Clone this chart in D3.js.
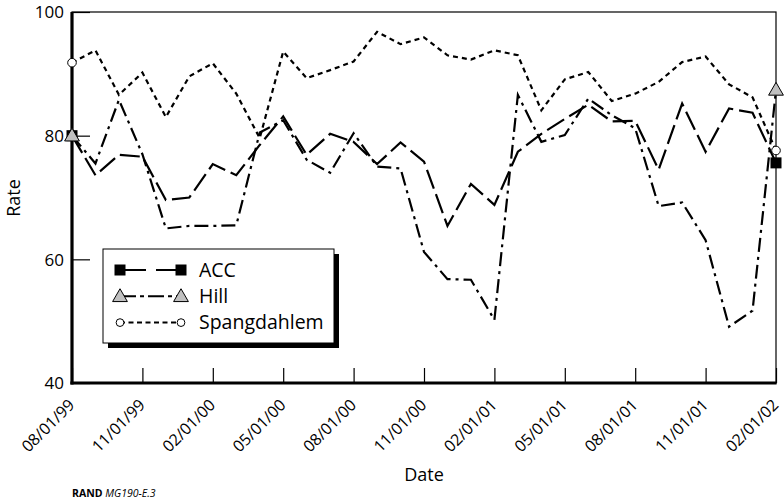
<!DOCTYPE html>
<html>
<head>
<meta charset="utf-8">
<script src="https://cdn.jsdelivr.net/npm/d3@7"></script>
<style>
  body { margin: 0; background: #fff; }
  svg { display: block; }
  text { font-family: "Open Sans", "Noto Sans", sans-serif; fill: #000; }
</style>
</head>
<body>
<svg id="chart" width="784" height="502"></svg>
<script>
// ---- data ----
const months = [
  "08/01/99","09/01/99","10/01/99","11/01/99","12/01/99","01/01/00","02/01/00",
  "03/01/00","04/01/00","05/01/00","06/01/00","07/01/00","08/01/00","09/01/00",
  "10/01/00","11/01/00","12/01/00","01/01/01","02/01/01","03/01/01","04/01/01",
  "05/01/01","06/01/01","07/01/01","08/01/01","09/01/01","10/01/01","11/01/01",
  "12/01/01","01/01/02","02/01/02"
];
const tickLabels = ["08/01/99","11/01/99","02/01/00","05/01/00","08/01/00","11/01/00",
  "02/01/01","05/01/01","08/01/01","11/01/01","02/01/02"];
const yTicks = [40, 60, 80, 100];

const acc = [80.0, 73.6, 76.9, 76.6, 69.6, 70.0, 75.4, 73.6, 78.5, 83.1, 76.9, 80.3,
  79.0, 75.4, 78.9, 75.8, 65.4, 72.2, 68.8, 77.4, 80.3, 82.7, 85.0, 82.3, 82.4,
  74.5, 85.2, 77.4, 84.4, 83.7, 75.6];
const hill = [80.0, 75.5, 85.8, 77.0, 65.0, 65.4, 65.4, 65.5, 80.5, 82.5, 76.1, 74.0,
  80.4, 75.0, 74.7, 61.2, 56.8, 56.7, 50.2, 86.6, 79.0, 80.1, 86.0, 83.3, 81.2,
  68.6, 69.2, 63.1, 49.1, 51.7, 87.4];
const spang = [91.8, 93.8, 86.6, 90.2, 83.0, 89.6, 91.7, 86.8, 79.6, 93.6, 89.3, 90.6,
  92.0, 96.8, 94.8, 95.9, 93.0, 92.3, 93.8, 93.0, 84.1, 89.1, 90.3, 85.6, 86.8,
  88.7, 91.9, 92.8, 88.3, 86.2, 77.6];

const seriesNames = ["ACC", "Hill", "Spangdahlem"];

// ---- layout ----
const L = 72, R = 776, T = 12, B = 383;
const svg = d3.select("#chart");
const x = d3.scalePoint().domain(months).range([L, R]);
const y = d3.scaleLinear().domain([40, 100]).range([B, T]);

// frame (thin top/right)
svg.append("rect").attr("x", L).attr("y", T).attr("width", R - L).attr("height", B - T)
  .attr("fill", "none").attr("stroke", "#000").attr("stroke-width", 1.2);

// x axis
const xAxis = svg.append("g").attr("transform", `translate(0,${B})`)
  .call(d3.axisBottom(x).tickValues(tickLabels).tickSizeInner(-15).tickSizeOuter(0));
xAxis.select(".domain").remove();
xAxis.selectAll(".tick line").attr("stroke", "#000").attr("stroke-width", 1.2);
xAxis.selectAll(".tick text")
  .attr("font-size", 16).attr("text-anchor", "end")
  .attr("x", null).attr("y", null).attr("dy", null)
  .attr("transform", "translate(3,23) rotate(-45)");

// y axis
const yAxis = svg.append("g").attr("transform", `translate(${L},0)`)
  .call(d3.axisLeft(y).tickValues(yTicks).tickSizeInner(-18).tickSizeOuter(0).tickPadding(8));
yAxis.select(".domain").remove();
yAxis.selectAll(".tick line").attr("stroke", "#000").attr("stroke-width", 1.2);
yAxis.selectAll(".tick text").attr("font-size", 17).attr("dy", "0.35em");

// thick left & bottom axis lines
svg.append("line").attr("x1", L).attr("x2", L).attr("y1", T).attr("y2", B + 1.5)
  .attr("stroke", "#000").attr("stroke-width", 3.2);
svg.append("line").attr("x1", L - 1.6).attr("x2", R + 0.6).attr("y1", B).attr("y2", B)
  .attr("stroke", "#000").attr("stroke-width", 3.2);

// lines
const dashes = { ACC: "20,6", Hill: "14,5,3,5", Spangdahlem: "5,4" };
const dataMap = { ACC: acc, Hill: hill, Spangdahlem: spang };
const lineGen = d3.line().x((d, i) => x(months[i])).y(d => y(d));

seriesNames.forEach(name => {
  svg.append("path").datum(dataMap[name]).attr("d", lineGen)
    .attr("fill", "none").attr("stroke", "#000").attr("stroke-width", 2.2)
    .attr("stroke-dasharray", dashes[name]).attr("stroke-linejoin", "miter");
});

function marker(g, name, cx, cy, scale) {
  const s = scale || 1;
  if (name === "ACC") {
    g.append("rect").attr("x", cx - 5.5 * s).attr("y", cy - 5.5 * s)
      .attr("width", 11 * s).attr("height", 11 * s).attr("fill", "#000");
  } else if (name === "Hill") {
    const sym = d3.symbol().type(d3.symbolTriangle).size(95 * s * s);
    g.append("path").attr("d", sym()).attr("transform", `translate(${cx},${cy + 1})`)
      .attr("fill", "#c0c0c0").attr("stroke", "#000").attr("stroke-width", 1);
  } else {
    g.append("circle").attr("cx", cx).attr("cy", cy).attr("r", 4.3 * s)
      .attr("fill", "#fff").attr("stroke", "#000").attr("stroke-width", 1);
  }
}

const mk = svg.append("g");
seriesNames.forEach(name => {
  const arr = dataMap[name];
  [0, arr.length - 1].forEach(i => marker(mk, name, x(months[i]), y(arr[i])));
});

// legend
const lg = svg.append("g");
const lx = 103, ly = 249, lw = 231, lh = 94;
lg.append("rect").attr("x", lx + 5).attr("y", ly + 5).attr("width", lw).attr("height", lh).attr("fill", "#000");
lg.append("rect").attr("x", lx).attr("y", ly).attr("width", lw).attr("height", lh)
  .attr("fill", "#fff").attr("stroke", "#000").attr("stroke-width", 1);
seriesNames.forEach((name, k) => {
  const cy = ly + 21 + k * 26.3;
  lg.append("line").attr("x1", 120).attr("x2", 181).attr("y1", cy).attr("y2", cy)
    .attr("stroke", "#000").attr("stroke-width", 2)
    .attr("stroke-dasharray", name === "ACC" ? "26,10" : name === "Hill" ? "16,4,4,4" : "5,3.5");
  marker(lg, name, 120, cy, name === "Spangdahlem" ? 0.9 : 1);
  marker(lg, name, 181, cy, name === "Spangdahlem" ? 0.9 : 1);
  lg.append("text").attr("x", 199).attr("y", cy).attr("dy", "0.35em")
    .attr("font-size", 19.5).text(name);
});

// axis titles
svg.append("text").attr("x", 424).attr("y", 481).attr("text-anchor", "middle")
  .attr("font-size", 18).text("Date");
svg.append("text").attr("transform", "translate(20,198) rotate(-90)")
  .attr("text-anchor", "middle").attr("font-size", 18).text("Rate");

// source note
const src = svg.append("text").attr("x", 72).attr("y", 497).attr("font-size", 10.5);
src.append("tspan").attr("font-weight", "bold").text("RAND ");
src.append("tspan").attr("font-style", "italic").text("MG190-E.3");
</script>
</body>
</html>
